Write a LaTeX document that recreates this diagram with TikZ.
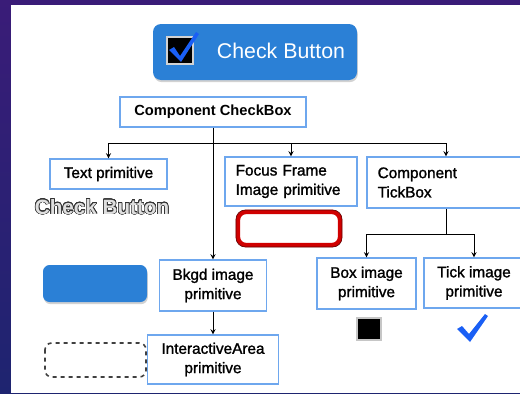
\documentclass[tikz,border=0pt]{standalone}
\usepackage{fontspec}
\setmainfont{Liberation Sans}
\newfontfamily\labelfont[FakeBold=1.4]{Liberation Sans}
\usepackage{contour}
\usepackage{tikz}
\usetikzlibrary{shapes,arrows}
\usetikzlibrary{shadows}
\definecolor{bgtop}{HTML}{3A1C78}
\definecolor{bgbottom}{HTML}{1E2470}
\definecolor{btnblue}{HTML}{2B80D6}
\definecolor{boxline}{HTML}{6EA7EE}
\definecolor{tickblue}{HTML}{1A5FF5}
\definecolor{framered}{HTML}{D00000}
\tikzstyle{primblock} = [rectangle, draw=boxline, line width=0.9pt, fill=white,
    text centered, inner xsep=8pt, font=\labelfont\fontsize{11.5}{14.5}\selectfont]
\tikzstyle{leftblock} = [primblock, align=left]
\tikzstyle{shapeshadow} = [drop shadow={opacity=0.35, shadow xshift=0.6pt, shadow yshift=-1.6pt}]
\contourlength{0.45pt}
\contournumber{24}

\begin{document}
\begin{tikzpicture}[x=0.75pt, y=-0.75pt, >=stealth, line width=0.75pt]
    \useasboundingbox (0,0) rectangle (520,393);
    % Background
    \shade [top color=bgtop, bottom color=bgbottom] (0,0) rectangle (520,393);
    \fill [white] (11,5) rectangle (520,393);
    % Check button sample
    \fill [btnblue, rounded corners=6pt, shapeshadow] (153,24) rectangle (357,80);
    \draw [fill=black, draw=gray!35, line width=1.5pt] (167,37) rectangle (193,64);
    \fill [tickblue] (169,50) -- (174,47) -- (180,56) -- (196,32) -- (199,34) -- (181,62) -- cycle;
    \node [text=white, font=\fontsize{16}{18}\selectfont, anchor=west] (btntext) at (212,51) {Check Button};
    % Component nodes
    \node [primblock, minimum width=139.5pt, minimum height=22.5pt, font=\bfseries\fontsize{11}{14}\selectfont] (checkbox) at (213,112) {Component CheckBox};
    \node [primblock, minimum width=87.75pt, minimum height=22.5pt] (textprim) at (108.5,174) {Text primitive};
    \node [leftblock, minimum width=99pt, minimum height=36.75pt, text width=83pt] (focus) at (291,181.5) {Focus Frame\\Image primitive};
    \node [leftblock, minimum width=118.5pt, minimum height=38.25pt, text width=102.5pt] (tickbox) at (446,182.5) {Component\\TickBox};
    \node [primblock, minimum width=80.25pt, minimum height=38.25pt, align=center] (bkgd) at (213,285.5) {Bkgd image\\primitive};
    \node [primblock, minimum width=98.25pt, minimum height=36.75pt, align=center] (interactive) at (213,359.5) {InteractiveArea\\primitive};
    \node [primblock, minimum width=74.25pt, minimum height=38.25pt, align=center] (boximg) at (366.5,283.5) {Box image\\primitive};
    \node [primblock, minimum width=75pt, minimum height=37.5pt, align=center] (tickimg) at (474,283) {Tick image\\primitive};
    % Primitive samples
    \node [font=\bfseries\fontsize{15.5}{18}\selectfont] (outlinetext) at (102,207) {\contour{black!80}{\textcolor{gray!25}{Check Button}}};
    \draw [framered, line width=3.2pt, rounded corners=6pt, fill=white, shapeshadow] (238,212) rectangle (340,245);
    \draw [black!60!red, line width=0.5pt, rounded corners=7pt] (236,210) rectangle (342,247);
    \fill [btnblue, rounded corners=5pt, shapeshadow] (43,265) rectangle (147,302);
    \draw [black!75, dashed, line width=1.2pt, rounded corners=5pt] (45,343) rectangle (146,377);
    \draw [fill=black, draw=gray!45, line width=1.2pt] (357,318) rectangle (381,340);
    \fill [tickblue] (457,329) -- (462,326) -- (469,334) -- (485,314) -- (488,316) -- (470,342) -- cycle;
    % Draw edges
    \coordinate (bus) at (213,143);
    \coordinate (tickbus) at (446,234);
    \draw [->] (checkbox) -- (bkgd);
    \draw [->] (bus) -| (textprim);
    \draw [->] (bus) -| (focus);
    \draw [->] (bus) -| (tickbox);
    \draw (tickbox) -- (tickbus);
    \draw [->] (tickbus) -| (boximg);
    \draw [->] (tickbus) -| (tickimg);
    \draw [->] (bkgd) -- (interactive);
\end{tikzpicture}
\end{document}
